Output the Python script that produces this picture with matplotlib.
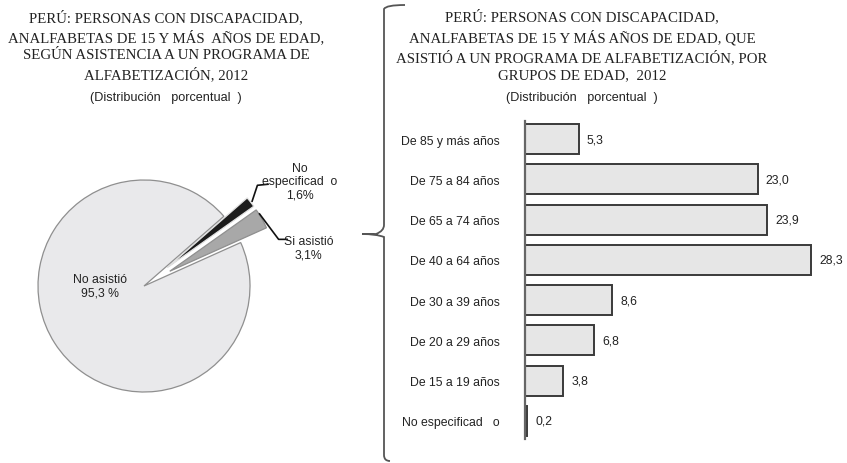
import matplotlib.pyplot as plt
from matplotlib.path import Path
from matplotlib.patches import PathPatch

# asistencia a programa de alfabetización (pie)
pie_labels = ["Si asistió", "No especificado", "No asistió"]
pie_values = [3.1, 1.6, 95.3]
pie_colors = ["#a8a8a8", "#1c1c1c", "#e9e9eb"]

# grupos de edad (barras)
grupos = ["De 85 y más años", "De 75 a 84 años", "De 65 a 74 años", "De 40 a 64 años",
          "De 30 a 39 años", "De 20 a 29 años", "De 15 a 19 años", "No especificad   o"]
porcentajes = [5.3, 23.0, 23.9, 28.3, 8.6, 6.8, 3.8, 0.2]

W, H = 847, 464
fig = plt.figure(figsize=(W / 100, H / 100), dpi=100)
sans = ["Liberation Sans Narrow", "Liberation Sans", "DejaVu Sans"]
serif = ["Liberation Serif", "DejaVu Serif"]
fs = 8.8


def frac(x0, y0, w, h):
    # pixel box (top-left origin) -> figure fraction
    return [x0 / W, 1 - (y0 + h) / H, w / W, h / H]


# ---- titles
t1 = ("PERÚ: PERSONAS CON DISCAPACIDAD,\nANALFABETAS DE 15 Y MÁS  AÑOS DE EDAD,\n"
      "SEGÚN ASISTENCIA A UN PROGRAMA DE\nALFABETIZACIÓN, 2012")
t2 = ("PERÚ: PERSONAS CON DISCAPACIDAD,\nANALFABETAS DE 15 Y MÁS AÑOS DE EDAD, QUE\n"
      "ASISTIÓ A UN PROGRAMA DE ALFABETIZACIÓN, POR\nGRUPOS DE EDAD,  2012")
for xt, t in [(166, t1), (582, t2)]:
    fig.text(xt / W, 1 - 46 / H, t, ha="center", va="center", family=serif,
             fontsize=10.7, color="#222222", linespacing=1.42)
    fig.text(xt / W, 1 - 98 / H, "(Distribución   porcentual  )", ha="center",
             va="center", family=sans, fontsize=9.1, color="#222222")

# ---- pie
R = 106
ax1 = fig.add_axes(frac(144 - 1.3 * R, 287 - 1.5 * R, 3.3 * R, 3.0 * R))
wedges, _ = ax1.pie(pie_values, colors=pie_colors, startangle=24.2, counterclock=True,
                    explode=[0.28, 0.28, 0],
                    wedgeprops=dict(edgecolor="#8f8f8f", linewidth=0.9))
wedges[1].set_edgecolor("#e0e0e0")
ax1.set_xlim(-1.3, 2.0)
ax1.set_ylim(-1.5, 1.5)
ax1.set_aspect("equal")
ax1.axis("off")

txt = dict(family=sans, fontsize=fs, color="#222222", ha="center", va="center",
           linespacing=1.15)
ax1.text(-0.415, 0.0, "No asistió\n95,3 %", **txt)
ax1.text(1.47, 0.99, "No\nespecificad  o\n1,6%", **txt)
ax1.text(1.55, 0.36, "Si asistió\n3,1%", **txt)
ax1.plot([1.02, 1.07, 1.17], [0.80, 0.95, 0.96], color="#111111", lw=1.2)
ax1.plot([1.09, 1.27, 1.35], [0.68, 0.44, 0.44], color="#111111", lw=1.2)

# ---- bars
ppu = 10.12
ax2 = fig.add_axes(frac(525, 122, 30 * ppu, 318))
pos = list(range(len(grupos)))
ax2.barh(pos, porcentajes, height=0.75, color="#e6e6e6", edgecolor="#3a3a3a",
         linewidth=1.4)
for i, v in zip(pos, porcentajes):
    ax2.text(v + 0.8, i, f"{v:.1f}".replace(".", ","), va="center", ha="left",
             family=sans, fontsize=fs, color="#222222")
ax2.set_xlim(0, 30)
ax2.set_ylim(7.45, -0.45)
ax2.set_xticks([])
ax2.set_yticks(pos)
ax2.set_yticklabels(grupos, family=sans, fontsize=fs, color="#222222")
ax2.tick_params(axis="y", length=0, pad=18)
for s in ["top", "right", "bottom"]:
    ax2.spines[s].set_visible(False)
ax2.spines["left"].set_color("#666666")
ax2.spines["left"].set_linewidth(1.6)

# ---- brace linking both charts
axb = fig.add_axes([0, 0, 1, 1])
axb.set_xlim(0, W)
axb.set_ylim(H, 0)
axb.axis("off")
verts = [(405, 6), (386, 6), (384, 10), (384, 30),
         (384, 226), (384, 232), (376, 235), (362, 235),
         (376, 235), (384, 238), (384, 244),
         (384, 456), (384, 462), (390, 462)]
codes = [Path.MOVETO, Path.CURVE3, Path.CURVE3, Path.LINETO,
         Path.LINETO, Path.CURVE3, Path.CURVE3, Path.LINETO,
         Path.CURVE3, Path.CURVE3, Path.LINETO,
         Path.LINETO, Path.CURVE3, Path.CURVE3]
axb.add_patch(PathPatch(Path(verts, codes), fill=False, edgecolor="#555555", lw=1.3))

fig.savefig("out.png", dpi=100)
